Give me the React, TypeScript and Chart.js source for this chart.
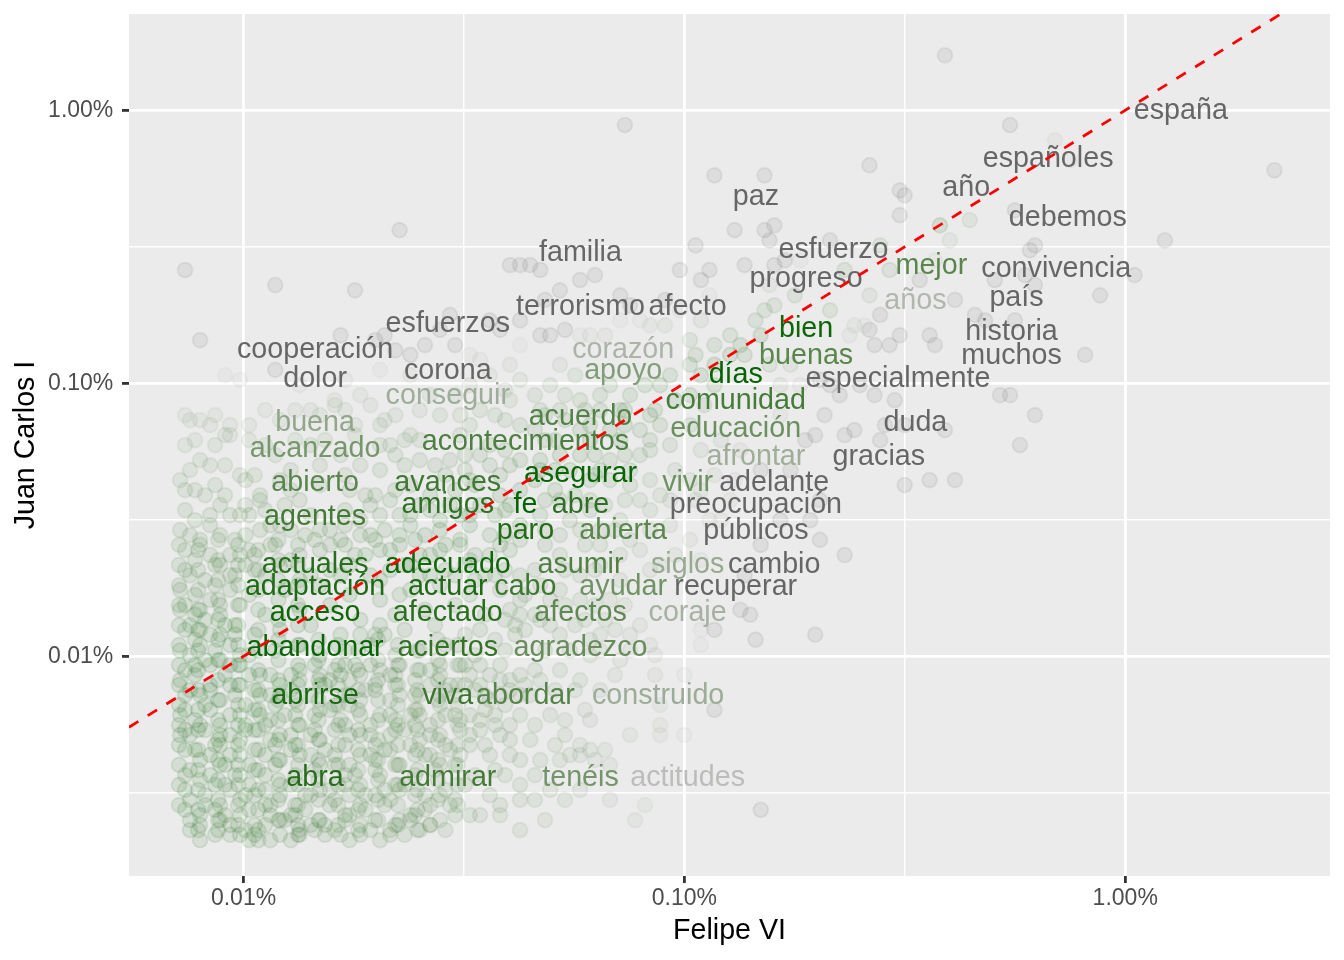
import React, { useEffect, useRef } from "react";
import { Chart, registerables } from "chart.js";

Chart.register(...registerables);

// ---------- DATA ----------
// corpus sizes (number of words) used to turn counts into proportions
const felipeTotalWords = 6882;
const juanCarlosTotalWords = 22994;

// labelled words with their counts in each corpus
const labelWords = [
  "españa", "españoles", "año", "debemos", "paz", "familia", "esfuerzo", "mejor", "convivencia", "progreso",
  "años", "país", "terrorismo", "afecto", "esfuerzos", "bien", "historia", "cooperación", "corazón", "buenas",
  "muchos", "dolor", "corona", "apoyo", "días", "especialmente", "conseguir", "comunidad", "acuerdo", "buena",
  "duda", "educación", "acontecimientos", "alcanzado", "afrontar", "gracias", "asegurar", "abierto", "avances", "vivir",
  "adelante", "amigos", "fe", "abre", "preocupación", "agentes", "paro", "abierta", "públicos", "actuales",
  "adecuado", "asumir", "siglos", "cambio", "adaptación", "actuar", "cabo", "ayudar", "recuperar", "acceso",
  "afectado", "afectos", "coraje", "abandonar", "aciertos", "agradezco", "abrirse", "viva", "abordar", "construido",
  "abra", "admirar", "tenéis", "actitudes",
];
const labelFelipeCounts = [
  92, 46, 30, 51, 10, 4, 15, 25, 48, 13,
  23, 39, 4, 7, 2, 13, 38, 1, 5, 13,
  38, 1, 2, 5, 9, 21, 2, 9, 4, 1,
  23, 9, 3, 1, 10, 19, 4, 1, 2, 7,
  11, 2, 3, 4, 10, 1, 3, 5, 10, 1,
  2, 4, 7, 11, 1, 2, 3, 5, 9, 1,
  2, 4, 7, 1, 2, 4, 1, 2, 3, 6,
  1, 2, 4, 7,
];
const labelJuanCarlosCounts = [
  277, 185, 145, 112, 134, 84, 86, 75, 73, 67,
  56, 57, 53, 53, 46, 44, 43, 37, 37, 35,
  35, 29, 31, 31, 30, 29, 25, 24, 21, 20,
  20, 19, 17, 16, 15, 15, 13, 12, 12, 12,
  12, 10, 10, 10, 10, 9, 8, 8, 8, 6,
  6, 6, 6, 6, 5, 5, 5, 5, 5, 4,
  4, 4, 4, 3, 3, 3, 2, 2, 2, 2,
  1, 1, 1, 1,
];

// jittered word points: [Felipe VI %, Juan Carlos I %]
const sparsePoints: [number, number][] = [
  [0.0226,0.364],[0.00737,0.260],[0.0118,0.229],[0.0179,0.219],[0.0402,0.271],[0.0424,0.271],[0.0447,0.271],[0.0471,0.260],
  [0.0733,0.883],[0.117,0.578],[0.152,0.578],[0.263,0.629],[0.308,0.509],[0.316,0.488],[0.308,0.413],[0.130,0.364],
  [0.152,0.364],[0.160,0.379],[0.156,0.334],[0.106,0.320],[0.214,0.334],[0.278,0.320],[0.0580,0.239],[0.0627,0.249],
  [0.0977,0.260],[0.109,0.239],[0.114,0.260],[0.137,0.271],[0.160,0.271],[0.169,0.282],[0.183,0.282],[0.231,0.260],
  [0.292,0.260],[0.342,0.239],[0.0715,0.210],[0.114,0.210],[0.156,0.229],[0.178,0.210],[0.263,0.210],
  [0.390,1.59],[0.548,0.883],[0.693,0.776],[0.750,0.656],[2.18,0.603],[0.562,0.430],[0.380,0.379],[0.444,0.396],
  [0.400,0.334],[0.624,0.320],[0.608,0.307],[1.23,0.334],[1.05,0.249],[0.506,0.239],[0.593,0.249],[0.624,0.229],
  [0.877,0.210],[0.370,0.282],[0.411,0.202],[0.456,0.178],[0.481,0.170],[0.562,0.170],[0.360,0.150],
  [0.370,0.138],[0.811,0.127],[0.520,0.0905],[0.548,0.0905],[0.624,0.0764],[0.390,0.0674],[0.577,0.0594],[0.360,0.0442],
  [0.411,0.0442],[0.00797,0.144],
];

const middlePoints: [number, number][] = [
  [0.243,0.0674],[0.231,0.0646],[0.243,0.163],[0.256,0.163],[0.278,0.178],[0.270,0.138],[0.292,0.138],[0.308,0.150],
  [0.214,0.185],[0.237,0.150],[0.263,0.157],[0.250,0.0984],[0.270,0.0905],[0.214,0.0984],[0.316,0.0424],[0.203,0.0267],[0.231,0.0235],
  [0.152,0.185],[0.160,0.193],[0.145,0.170],[0.149,0.150],[0.134,0.138],[0.127,0.150],[0.117,0.138],[0.109,0.170],[0.103,0.144],
  [0.106,0.127],[0.127,0.127],[0.137,0.127],[0.156,0.117],[0.174,0.117],[0.165,0.0984],[0.183,0.0984],[0.203,0.103],[0.225,0.0905],
  [0.208,0.0764],[0.198,0.0646],[0.165,0.0764],[0.134,0.0569],
  [0.0471,0.150],[0.0496,0.150],[0.0536,0.157],[0.0580,0.150],[0.0611,0.150],[0.0661,0.150],[0.0715,0.170],[0.0753,0.193],
  [0.0793,0.170],[0.0836,0.163],[0.0904,0.163],[0.0977,0.185],[0.0522,0.117],[0.0565,0.107],[0.0496,0.0984],[0.0458,0.0905],
  [0.0536,0.0905],[0.0580,0.0867],[0.0644,0.0905],[0.0678,0.0984],[0.0753,0.0905],[0.0814,0.0984],[0.0881,0.0984],[0.0928,0.107],
  [0.0952,0.0867],[0.0836,0.0764],[0.0881,0.0703],[0.0928,0.0594],[0.0836,0.0569],[0.0793,0.0546],[0.0733,0.0546],[0.0678,0.0523],
  [0.0627,0.0546],[0.0580,0.0546],[0.0522,0.0546],[0.0678,0.0442],[0.0753,0.0424],[0.0733,0.0373],[0.0661,0.0358],[0.0550,0.0315],
  [0.0522,0.0278],[0.0471,0.0329],[0.0483,0.0256],[0.0522,0.0235],[0.0753,0.0267],[0.0793,0.0245],[0.0928,0.0302],[0.103,0.0267],
  [0.106,0.0373],[0.117,0.0461],[0.130,0.0442],[0.165,0.0315],[0.103,0.0703],[0.109,0.0569],[0.121,0.0619],[0.149,0.0481],
  [0.174,0.0481],[0.188,0.0619],[0.127,0.0373],[0.149,0.0256],[0.121,0.0315],[0.109,0.0225],[0.137,0.0198],[0.203,0.0373],
  [0.193,0.0315],[0.300,0.0867],[0.285,0.0703],[0.316,0.0703],[0.278,0.0619],[0.0580,0.0198],[0.0644,0.0216],[0.0715,0.0190],
  [0.0836,0.0207],[0.0522,0.0175],[0.0471,0.0182],[0.0483,0.202],[0.0522,0.219],[0.0904,0.202],
  [0.134,0.0148],[0.141,0.0142],[0.109,0.0125],[0.117,0.0125],[0.145,0.0115],[0.198,0.0120],[0.109,0.0110],[0.0858,0.0101],
  [0.100,0.00854],[0.0858,0.00854],[0.117,0.00636],[0.0881,0.00663],[0.0595,0.00636],[0.0753,0.00515],[0.0881,0.00560],[0.0881,0.00515],
  [0.100,0.00515],[0.0661,0.00454],[0.0678,0.00400],[0.0611,0.00454],[0.0580,0.00435],[0.0536,0.00298],[0.0678,0.00298],[0.0814,0.00285],
  [0.0773,0.00251],[0.0483,0.00251],[0.149,0.00274],[0.0458,0.00298],[0.0496,0.0130],[0.0522,0.0120],[0.0565,0.0130],[0.0611,0.0115],
  [0.0644,0.0120],[0.0696,0.0125],[0.0753,0.0120],[0.0793,0.0130],[0.0836,0.0110],[0.0733,0.0154],[0.0678,0.0161],[0.0627,0.0154],
  [0.0580,0.0161],[0.0536,0.0154],[0.0496,0.0161],[0.0458,0.0142],[0.0522,0.00890],[0.0580,0.00818],[0.0696,0.00854],[0.0715,0.00969],
  [0.0458,0.00890],[0.0471,0.00818],[0.0447,0.00721],[0.0496,0.00609],[0.0458,0.00560],[0.0536,0.00515],[0.0580,0.00473],[0.0509,0.00473],
  [0.0550,0.00435],[0.0447,0.00494],[0.0458,0.00367],[0.0611,0.0101],
  [0.0458,0.0674],[0.0483,0.0619],[0.0471,0.0523],[0.0458,0.0442],[0.0509,0.0406],[0.0483,0.0373],[0.0611,0.0442],[0.0565,0.0389],
  [0.0611,0.0343],[0.0644,0.0290],[0.0595,0.0256],[0.0715,0.0315],[0.0836,0.0343],[0.0881,0.0389],[0.0836,0.0442],[0.0952,0.0481],
  [0.103,0.0442],[0.109,0.0406],[0.114,0.0315],[0.0952,0.0235],[0.0881,0.0216],[0.0715,0.0235],[0.0644,0.0256],[0.0611,0.0703],
  [0.0678,0.0674],[0.0733,0.0703],[0.0644,0.0797],[0.0536,0.0733],[0.0483,0.0764],[0.0580,0.0674],[0.0509,0.0481],[0.0550,0.0481],
  [0.0627,0.0461],[0.0793,0.0674],[0.0733,0.0797],[0.103,0.0905],[0.111,0.0832],[0.117,0.0984],[0.109,0.107],[0.117,0.117],
  [0.103,0.117],
  [0.0458,0.0207],[0.0536,0.0207],[0.0627,0.0207],[0.0471,0.0136],[0.0595,0.0136],[0.0661,0.0136],
  [0.0483,0.0105],[0.0550,0.0105],[0.0644,0.0105],[0.0753,0.0105],[0.0509,0.00752],[0.0565,0.00752],[0.0644,0.00752],
  [0.0536,0.00584],[0.0611,0.00584],[0.0471,0.00417],[0.0522,0.00417],[0.0627,0.00417],[0.0496,0.00324],[0.0580,0.00324],
  [0.0471,0.0797],[0.0522,0.0797],[0.0595,0.0797],[0.0715,0.0797],[0.0858,0.0797],[0.0509,0.0619],[0.0611,0.0619],[0.0715,0.0619],
  [0.0836,0.0619],[0.0471,0.0481],[0.0644,0.0481],[0.0753,0.0481],[0.0522,0.0373],[0.0611,0.0373],[0.0793,0.0373],[0.0928,0.0373],
  [0.0483,0.0290],[0.0580,0.0290],[0.0696,0.0290],[0.0836,0.0290],
];

const leftUpperPoints: [number, number][] = [
  [0.0166,0.150],[0.0199,0.144],[0.0209,0.150],[0.0239,0.127],[0.0302,0.138],[0.0326,0.127],[0.0344,0.122],[0.0402,0.117],
  [0.0424,0.138],[0.0279,0.157],[0.0382,0.157],[0.0221,0.132],[0.0258,0.138],[0.0294,0.178],[0.0424,0.170],[0.0362,0.170],
  [0.00908,0.107],[0.00982,0.103],[0.0118,0.112],[0.0134,0.0984],[0.0161,0.0867],[0.0184,0.0905],[0.0265,0.0905],[0.0170,0.103],
  [0.0204,0.112],[0.0239,0.107],[0.0326,0.0984],[0.0362,0.107],[0.0392,0.0944],[0.0424,0.103],[0.0302,0.0905],
  [0.00737,0.0764],[0.00797,0.0733],[0.00840,0.0703],[0.00932,0.0703],[0.00908,0.0646],[0.0112,0.0797],[0.0131,0.0797],[0.0142,0.0797],
  [0.0161,0.0832],[0.0170,0.0797],[0.0194,0.0832],[0.0204,0.0703],[0.0221,0.0764],[0.0239,0.0646],[0.0251,0.0797],[0.0310,0.0764],
  [0.0344,0.0797],[0.0372,0.0764],[0.0402,0.0867],[0.0424,0.0703],
  [0.00737,0.0594],[0.00797,0.0523],[0.00862,0.0594],[0.00840,0.0501],[0.00982,0.0461],[0.0131,0.0619],[0.0142,0.0594],[0.0118,0.0546],
  [0.0204,0.0594],[0.0221,0.0546],[0.0232,0.0619],[0.0251,0.0523],[0.0272,0.0501],[0.0294,0.0523],[0.0318,0.0546],[0.0344,0.0546],
  [0.0362,0.0501],[0.0392,0.0569],[0.0424,0.0523],[0.0103,0.0619],[0.0166,0.0546],[0.0184,0.0501],
  [0.00718,0.0442],[0.00737,0.0406],[0.00818,0.0389],[0.00908,0.0389],[0.0101,0.0442],[0.0101,0.0358],[0.0109,0.0373],[0.00840,0.0329],
  [0.00776,0.0315],[0.00932,0.0329],[0.0103,0.0329],[0.0115,0.0302],[0.0199,0.0389],[0.0204,0.0329],[0.0215,0.0373],[0.0226,0.0329],
  [0.0251,0.0358],[0.0279,0.0315],[0.0310,0.0329],[0.0344,0.0358],[0.0372,0.0329],[0.0402,0.0358],[0.0424,0.0302],[0.0121,0.0442],
  [0.0134,0.0373],[0.0174,0.0406],[0.0184,0.0315],[0.0157,0.0290],[0.0128,0.0290],[0.0326,0.0442],[0.0382,0.0461],
  [0.00756,0.0278],[0.00797,0.0267],[0.00885,0.0278],[0.00957,0.0267],[0.00776,0.0225],[0.00840,0.0235],[0.00885,0.0216],[0.00982,0.0235],
  [0.0106,0.0235],[0.00756,0.0198],[0.00818,0.0190],[0.00932,0.0198],[0.0101,0.0216],[0.0145,0.0267],[0.0157,0.0256],[0.0166,0.0267],
  [0.0179,0.0235],[0.0184,0.0278],[0.0199,0.0267],[0.0215,0.0245],[0.0226,0.0278],[0.0245,0.0267],[0.0265,0.0235],[0.0287,0.0256],
  [0.0310,0.0267],[0.0335,0.0235],[0.0362,0.0278],[0.0382,0.0256],[0.0424,0.0267],[0.0302,0.0198],[0.0335,0.0190],[0.0372,0.0198],
  [0.0424,0.0198],[0.0115,0.0256],[0.0128,0.0225],[0.0112,0.0198],[0.0134,0.0190],[0.0166,0.0198],[0.0204,0.0190],[0.0251,0.0198],
  [0.0326,0.0225],[0.0232,0.0216],
  [0.00756,0.0733],[0.00862,0.0764],[0.0103,0.0703],[0.0121,0.0733],[0.0149,0.0764],[0.0179,0.0703],[0.0209,0.0733],[0.0279,0.0764],[0.0326,0.0703],[0.0392,0.0733],
  [0.00776,0.0619],[0.00932,0.0646],[0.0112,0.0594],[0.0153,0.0619],[0.0179,0.0646],[0.0215,0.0594],[0.0251,0.0619],[0.0310,0.0646],[0.0362,0.0594],
  [0.00756,0.0481],[0.00908,0.0501],[0.0106,0.0461],[0.0128,0.0481],[0.0149,0.0501],[0.0170,0.0461],[0.0204,0.0481],[0.0232,0.0501],[0.0287,0.0461],[0.0318,0.0481],[0.0402,0.0501],
  [0.00776,0.0406],[0.00862,0.0424],[0.0109,0.0389],[0.0128,0.0406],[0.0149,0.0424],[0.0189,0.0389],[0.0221,0.0406],[0.0239,0.0424],[0.0265,0.0389],[0.0302,0.0406],[0.0335,0.0424],[0.0382,0.0389],[0.0424,0.0406],
  [0.00737,0.0343],[0.00885,0.0358],[0.00982,0.0329],[0.0112,0.0343],[0.0124,0.0358],[0.0142,0.0329],[0.0170,0.0343],[0.0194,0.0358],[0.0239,0.0329],[0.0265,0.0343],[0.0294,0.0358],[0.0326,0.0329],[0.0392,0.0343],
  [0.00718,0.0290],[0.00840,0.0302],[0.0101,0.0278],[0.0109,0.0290],[0.0121,0.0302],[0.0138,0.0278],[0.0149,0.0290],[0.0170,0.0302],[0.0194,0.0278],[0.0209,0.0290],[0.0239,0.0302],[0.0258,0.0278],[0.0279,0.0290],[0.0326,0.0302],[0.0392,0.0278],
  [0.00737,0.0245],[0.00797,0.0256],[0.00932,0.0235],[0.0103,0.0245],[0.0118,0.0256],[0.0134,0.0235],[0.0149,0.0245],[0.0170,0.0256],[0.0189,0.0235],[0.0204,0.0245],[0.0226,0.0256],[0.0251,0.0235],[0.0279,0.0245],[0.0310,0.0256],[0.0362,0.0235],[0.0402,0.0245],
  [0.00737,0.0207],[0.00862,0.0216],[0.00957,0.0198],[0.0106,0.0207],[0.0121,0.0216],[0.0142,0.0198],[0.0157,0.0207],[0.0174,0.0216],[0.0194,0.0198],[0.0215,0.0207],[0.0239,0.0216],[0.0265,0.0198],[0.0287,0.0207],[0.0318,0.0216],[0.0353,0.0198],[0.0392,0.0207],
];

const leftLowerPoints: [number, number][] = [
  [0.00737,0.0154],[0.00776,0.0168],[0.00840,0.0161],[0.00885,0.0154],[0.00932,0.0175],[0.0204,0.0161],[0.0226,0.0168],[0.0424,0.0161],[0.0435,0.0168],
  [0.00718,0.0148],[0.00776,0.0142],[0.00818,0.0136],[0.00885,0.0142],[0.00957,0.0130],[0.00756,0.0130],[0.0184,0.0136],[0.0204,0.0130],[0.0392,0.0136],[0.0413,0.0130],[0.0424,0.0142],
  [0.00797,0.0125],[0.00840,0.0120],[0.00885,0.0120],[0.00776,0.0115],[0.00957,0.0120],[0.00862,0.0105],[0.00932,0.0110],[0.0184,0.0120],[0.0199,0.0120],[0.0209,0.0120],[0.0413,0.0120],[0.0435,0.0125],[0.0372,0.0115],
  [0.00756,0.0101],[0.00818,0.00969],[0.00885,0.00969],[0.00776,0.00929],[0.00932,0.00929],[0.00982,0.0101],[0.00982,0.00929],[0.0145,0.00929],[0.0161,0.00890],[0.0179,0.00929],
  [0.0194,0.00929],[0.0204,0.00890],[0.0226,0.00929],[0.0251,0.00890],[0.0279,0.00929],[0.0310,0.00929],[0.0344,0.00929],[0.0382,0.00929],[0.0424,0.00854],
  [0.00718,0.00818],[0.00776,0.00854],[0.00840,0.00785],[0.00908,0.00854],[0.00982,0.00785],[0.0103,0.00854],[0.0115,0.00854],[0.0121,0.00785],[0.0128,0.00854],[0.0134,0.00818],
  [0.0149,0.00854],[0.0157,0.00818],[0.0166,0.00854],[0.0174,0.00818],[0.0184,0.00854],[0.0199,0.00785],[0.0221,0.00854],[0.0245,0.00818],[0.0279,0.00854],[0.0294,0.00785],
  [0.0326,0.00854],[0.0344,0.00785],[0.0382,0.00818],[0.0402,0.00818],[0.0435,0.00785],
  [0.00737,0.00721],[0.00797,0.00721],[0.00840,0.00752],[0.00885,0.00691],[0.00957,0.00721],[0.0101,0.00663],[0.0106,0.00752],[0.0115,0.00721],[0.0121,0.00721],[0.0131,0.00691],
  [0.0142,0.00721],[0.0149,0.00785],[0.0161,0.00663],[0.0174,0.00721],[0.0184,0.00691],[0.0199,0.00752],[0.0215,0.00691],[0.0226,0.00721],[0.0245,0.00721],[0.0265,0.00785],
  [0.0279,0.00721],[0.0302,0.00721],[0.0335,0.00752],[0.0362,0.00691],[0.0382,0.00721],[0.0424,0.00721],
  [0.00718,0.00609],[0.00776,0.00584],[0.00840,0.00636],[0.00885,0.00560],[0.00932,0.00609],[0.0101,0.00560],[0.0109,0.00609],[0.0115,0.00584],[0.0124,0.00609],[0.0134,0.00560],
  [0.0145,0.00609],[0.0157,0.00636],[0.0166,0.00584],[0.0184,0.00609],[0.0194,0.00560],[0.0204,0.00609],[0.0221,0.00584],[0.0239,0.00609],[0.0251,0.00609],[0.0265,0.00560],
  [0.0287,0.00609],[0.0310,0.00584],[0.0326,0.00609],[0.0344,0.00584],[0.0372,0.00609],[0.0402,0.00560],[0.0424,0.00609],
  [0.00718,0.00515],[0.00756,0.00515],[0.00818,0.00537],[0.00862,0.00473],[0.00932,0.00515],[0.00982,0.00494],[0.0106,0.00537],[0.0115,0.00494],[0.0121,0.00515],[0.0131,0.00473],
  [0.0142,0.00515],[0.0149,0.00494],[0.0161,0.00537],[0.0174,0.00515],[0.0184,0.00515],[0.0199,0.00473],[0.0215,0.00515],[0.0232,0.00537],[0.0251,0.00494],[0.0265,0.00515],
  [0.0287,0.00473],[0.0310,0.00537],[0.0326,0.00515],[0.0353,0.00473],[0.0382,0.00515],[0.0402,0.00494],
  [0.00737,0.00454],[0.00797,0.00417],[0.00840,0.00435],[0.00908,0.00400],[0.00982,0.00435],[0.0103,0.00400],[0.0112,0.00435],[0.0121,0.00417],[0.0128,0.00454],[0.0142,0.00435],
  [0.0149,0.00400],[0.0161,0.00435],[0.0174,0.00400],[0.0184,0.00435],[0.0199,0.00417],[0.0215,0.00454],[0.0226,0.00400],[0.0245,0.00435],[0.0265,0.00435],[0.0279,0.00400],
  [0.0310,0.00435],[0.0402,0.00435],[0.0424,0.00417],
  [0.00737,0.00367],[0.00797,0.00352],[0.00840,0.00367],[0.00908,0.00338],[0.00982,0.00367],[0.0103,0.00338],[0.0112,0.00367],[0.0121,0.00338],[0.0170,0.00367],[0.0184,0.00338],
  [0.0204,0.00367],[0.0221,0.00338],[0.0392,0.00367],[0.0424,0.00338],
  [0.00756,0.00298],[0.00818,0.00310],[0.00885,0.00285],[0.00932,0.00324],[0.00982,0.00298],[0.0106,0.00310],[0.0115,0.00285],[0.0121,0.00310],[0.0131,0.00285],[0.0142,0.00310],
  [0.0149,0.00324],[0.0161,0.00298],[0.0174,0.00310],[0.0184,0.00285],[0.0199,0.00310],[0.0215,0.00298],[0.0226,0.00324],[0.0245,0.00310],[0.0265,0.00285],[0.0279,0.00310],
  [0.0302,0.00298],[0.0382,0.00285],[0.0424,0.00298],
  [0.00756,0.00251],[0.00797,0.00262],[0.00862,0.00274],[0.00932,0.00241],[0.00982,0.00262],[0.0106,0.00241],[0.0115,0.00262],[0.0121,0.00251],[0.0131,0.00262],[0.0142,0.00241],
  [0.0149,0.00251],[0.0161,0.00231],[0.0174,0.00262],[0.0184,0.00241],[0.0199,0.00251],[0.0215,0.00231],[0.0226,0.00251],[0.0245,0.00262],[0.0265,0.00241],[0.0279,0.00251],
  [0.0302,0.00262],[0.0326,0.00262],[0.0382,0.00262],[0.0424,0.00231],
  [0.00756,0.00231],[0.00932,0.00222],[0.00982,0.00222],[0.0106,0.00222],[0.0115,0.00212],[0.0121,0.00222],[0.0134,0.00222],[0.0145,0.00231],[0.0166,0.00222],[0.0184,0.00222],
  [0.0215,0.00222],[0.0251,0.00231],[0.0265,0.00241],
];

const leftLowerExtraPoints: [number, number][] = [
  [0.00718,0.0175],[0.00862,0.0182],[0.0103,0.0168],[0.0124,0.0175],[0.0149,0.0182],[0.0174,0.0168],[0.0239,0.0175],[0.0279,0.0182],[0.0326,0.0168],[0.0382,0.0175],
  [0.00797,0.0148],[0.00982,0.0154],[0.0112,0.0142],[0.0134,0.0148],[0.0157,0.0154],[0.0221,0.0142],[0.0258,0.0148],[0.0302,0.0154],[0.0353,0.0142],[0.0402,0.0148],
  [0.00737,0.0125],[0.00908,0.0130],[0.0106,0.0120],[0.0121,0.0125],[0.0142,0.0130],[0.0166,0.0120],[0.0232,0.0125],[0.0272,0.0130],[0.0318,0.0120],[0.0344,0.0125],
  [0.00718,0.0105],[0.00797,0.0110],[0.0103,0.0101],[0.0118,0.0105],[0.0134,0.0110],[0.0149,0.0101],[0.0170,0.0105],[0.0194,0.0110],[0.0221,0.0101],[0.0251,0.0105],[0.0287,0.0110],[0.0335,0.0101],[0.0392,0.0105],
  [0.00737,0.00890],[0.00840,0.00929],[0.0109,0.00854],[0.0134,0.00890],[0.0170,0.00929],[0.0215,0.00854],[0.0265,0.00890],[0.0318,0.00929],[0.0362,0.00854],
  [0.00756,0.00752],[0.00932,0.00785],[0.0109,0.00721],[0.0128,0.00752],[0.0153,0.00785],[0.0170,0.00721],[0.0189,0.00752],[0.0221,0.00785],[0.0251,0.00721],[0.0287,0.00752],[0.0318,0.00785],[0.0353,0.00721],[0.0402,0.00752],
  [0.00737,0.00636],[0.00818,0.00663],[0.00982,0.00609],[0.0106,0.00636],[0.0118,0.00663],[0.0131,0.00609],[0.0149,0.00636],[0.0174,0.00663],[0.0215,0.00609],[0.0245,0.00636],[0.0279,0.00663],[0.0302,0.00609],[0.0353,0.00636],[0.0392,0.00663],
  [0.00737,0.00537],[0.00797,0.00560],[0.00885,0.00515],[0.0101,0.00537],[0.0112,0.00560],[0.0128,0.00515],[0.0145,0.00537],[0.0170,0.00560],[0.0194,0.00515],[0.0221,0.00537],[0.0245,0.00560],[0.0279,0.00515],[0.0344,0.00537],[0.0372,0.00560],
  [0.00776,0.00454],[0.00885,0.00473],[0.00932,0.00435],[0.0106,0.00454],[0.0118,0.00473],[0.0134,0.00435],[0.0153,0.00454],[0.0170,0.00473],[0.0194,0.00435],[0.0209,0.00454],[0.0239,0.00473],[0.0258,0.00435],[0.0294,0.00454],[0.0326,0.00473],[0.0362,0.00435],
  [0.00756,0.00383],[0.00885,0.00400],[0.00957,0.00367],[0.0106,0.00383],[0.0118,0.00400],[0.0131,0.00367],[0.0145,0.00383],[0.0161,0.00400],[0.0179,0.00367],[0.0199,0.00383],[0.0221,0.00400],[0.0245,0.00367],[0.0272,0.00383],[0.0302,0.00400],[0.0335,0.00367],[0.0372,0.00383],
  [0.00737,0.00324],[0.00862,0.00338],[0.0101,0.00310],[0.0112,0.00324],[0.0128,0.00338],[0.0138,0.00310],[0.0157,0.00324],[0.0170,0.00338],[0.0189,0.00310],[0.0209,0.00324],[0.0232,0.00338],[0.0258,0.00310],[0.0287,0.00324],[0.0318,0.00338],[0.0362,0.00310],
  [0.00737,0.00274],[0.00818,0.00285],[0.00908,0.00262],[0.0103,0.00274],[0.0112,0.00285],[0.0128,0.00262],[0.0138,0.00274],[0.0157,0.00285],[0.0170,0.00262],[0.0189,0.00274],[0.0209,0.00285],[0.0239,0.00262],[0.0258,0.00274],[0.0294,0.00285],[0.0344,0.00262],
  [0.00797,0.00241],[0.00885,0.00251],[0.0101,0.00231],[0.0112,0.00241],[0.0124,0.00251],[0.0134,0.00231],[0.0153,0.00241],[0.0170,0.00251],[0.0194,0.00231],[0.0221,0.00241],[0.0239,0.00251],[0.0287,0.00231],
  [0.00797,0.00212],[0.00862,0.00222],[0.0103,0.00212],[0.0128,0.00212],[0.0153,0.00222],[0.0174,0.00212],[0.0204,0.00212],[0.0232,0.00222],
];

const leftCorePoints: [number, number][] = [
  [0.00714,0.0256],[0.00789,0.0245],[0.00876,0.0267],[0.00972,0.0256],[0.0108,0.0245],[0.0120,0.0267],[0.0133,0.0256],
  [0.00714,0.0216],[0.00789,0.0207],[0.00876,0.0225],[0.00972,0.0216],[0.0108,0.0207],[0.0120,0.0225],[0.0133,0.0216],
  [0.00714,0.0182],[0.00789,0.0175],[0.00876,0.0190],[0.00972,0.0182],[0.0108,0.0175],[0.0120,0.0190],[0.0133,0.0182],
  [0.00714,0.0154],[0.00789,0.0148],[0.00876,0.0161],[0.00972,0.0154],[0.0108,0.0148],[0.0120,0.0161],[0.0133,0.0154],
  [0.00714,0.0130],[0.00789,0.0125],[0.00876,0.0136],[0.00972,0.0130],[0.0108,0.0125],[0.0120,0.0136],[0.0133,0.0130],
  [0.00714,0.0110],[0.00789,0.0105],[0.00876,0.0115],[0.00972,0.0110],[0.0108,0.0105],[0.0120,0.0115],[0.0133,0.0110],
  [0.00714,0.00929],[0.00789,0.00890],[0.00876,0.00969],[0.00972,0.00929],[0.0108,0.00890],[0.0120,0.00969],[0.0133,0.00929],
  [0.00714,0.00785],[0.00789,0.00752],[0.00876,0.00818],[0.00972,0.00785],[0.0108,0.00752],[0.0120,0.00818],[0.0133,0.00785],
  [0.00714,0.00663],[0.00789,0.00636],[0.00876,0.00691],[0.00972,0.00663],[0.0108,0.00636],[0.0120,0.00691],[0.0133,0.00663],
  [0.00714,0.00560],[0.00789,0.00537],[0.00876,0.00584],[0.00972,0.00560],[0.0108,0.00537],[0.0120,0.00584],[0.0133,0.00560],
  [0.00714,0.00473],[0.00789,0.00454],[0.00876,0.00494],[0.00972,0.00473],[0.0108,0.00454],[0.0120,0.00494],[0.0133,0.00473],
  [0.00714,0.00400],[0.00789,0.00383],[0.00876,0.00417],[0.00972,0.00400],[0.0108,0.00383],[0.0120,0.00417],[0.0133,0.00400],
  [0.00714,0.00338],[0.00789,0.00324],[0.00876,0.00352],[0.00972,0.00338],[0.0108,0.00324],[0.0120,0.00352],[0.0133,0.00338],
  [0.00714,0.00285],[0.00789,0.00274],[0.00876,0.00298],[0.00972,0.00285],[0.0108,0.00274],[0.0120,0.00298],[0.0133,0.00285],
  [0.00789,0.00231],[0.00876,0.00251],[0.00972,0.00241],[0.0108,0.00231],[0.0120,0.00251],[0.0133,0.00241],
  [0.00876,0.00231],[0.0108,0.00212],[0.0133,0.00222],
  [0.0148,0.0115],[0.0164,0.0110],[0.0182,0.0105],[0.0202,0.0115],[0.0224,0.0110],[0.0248,0.0105],[0.0276,0.0115],[0.0306,0.0110],
  [0.0148,0.00969],[0.0164,0.00929],[0.0182,0.00890],[0.0202,0.00969],[0.0224,0.00929],[0.0248,0.00890],[0.0276,0.00969],[0.0306,0.00929],
  [0.0148,0.00818],[0.0164,0.00785],[0.0182,0.00752],[0.0202,0.00818],[0.0224,0.00785],[0.0248,0.00752],[0.0276,0.00818],[0.0306,0.00785],
  [0.0148,0.00691],[0.0164,0.00663],[0.0182,0.00636],[0.0202,0.00691],[0.0224,0.00663],[0.0248,0.00636],[0.0276,0.00691],[0.0306,0.00663],
  [0.0148,0.00584],[0.0164,0.00560],[0.0182,0.00537],[0.0202,0.00584],[0.0224,0.00560],[0.0248,0.00537],[0.0276,0.00584],[0.0306,0.00560],
  [0.0148,0.00494],[0.0164,0.00473],[0.0182,0.00454],[0.0202,0.00494],[0.0224,0.00473],[0.0248,0.00454],[0.0276,0.00494],[0.0306,0.00473],
  [0.0148,0.00417],[0.0164,0.00400],[0.0182,0.00383],[0.0202,0.00417],[0.0224,0.00400],[0.0248,0.00383],[0.0276,0.00417],[0.0306,0.00400],
  [0.0148,0.00352],[0.0164,0.00338],[0.0182,0.00324],[0.0202,0.00352],[0.0224,0.00338],[0.0248,0.00324],[0.0276,0.00352],[0.0306,0.00338],
  [0.0148,0.00298],[0.0164,0.00285],[0.0182,0.00274],[0.0202,0.00298],[0.0224,0.00285],[0.0248,0.00274],[0.0276,0.00298],[0.0306,0.00285],
  [0.0148,0.00251],[0.0164,0.00241],[0.0182,0.00231],[0.0202,0.00251],[0.0224,0.00241],[0.0248,0.00231],
];

const xMajorTicks = [0.01, 0.1, 1];
const yMajorTicks = [0.01, 0.1, 1];
const xMinorTicks = [0.0316228, 0.316228];
const yMinorTicks = [0.00316228, 0.0316228, 0.316228];

const X_MIN = 0.005498;
const X_MAX = 2.914;
const Y_MIN = 0.0015676;
const Y_MAX = 2.253;

const allPoints = [
  ...sparsePoints, ...middlePoints, ...leftUpperPoints, ...leftLowerPoints, ...leftLowerExtraPoints, ...leftCorePoints,
];

// ---------- STYLE ----------
const FONT = '"Liberation Sans", Arial, Helvetica, sans-serif';
const LABEL_SIZE = 28.7;
const LOW: [number, number, number] = [0, 100, 0]; // darkgreen
const HIGH: [number, number, number] = [191, 191, 191]; // gray75
const NA_COL: [number, number, number] = [102, 102, 102];

function toLin(c: number) {
  c /= 255;
  return c <= 0.04045 ? c / 12.92 : Math.pow((c + 0.055) / 1.055, 2.4);
}
function fromLin(c: number) {
  const v = c <= 0.0031308 ? 12.92 * c : 1.055 * Math.pow(c, 1 / 2.4) - 0.055;
  return Math.round(Math.max(0, Math.min(1, v)) * 255);
}
function rgbToLab(rgb: [number, number, number]) {
  const R = toLin(rgb[0]), G = toLin(rgb[1]), B = toLin(rgb[2]);
  const X = (0.4124 * R + 0.3576 * G + 0.1805 * B) / 0.95047;
  const Y = 0.2126 * R + 0.7152 * G + 0.0722 * B;
  const Z = (0.0193 * R + 0.1192 * G + 0.9505 * B) / 1.08883;
  const f = (t: number) => (t > 0.008856 ? Math.cbrt(t) : 7.787 * t + 16 / 116);
  return [116 * f(Y) - 16, 500 * (f(X) - f(Y)), 200 * (f(Y) - f(Z))];
}
function labToRgb(lab: number[]): [number, number, number] {
  const fy = (lab[0] + 16) / 116;
  const fx = fy + lab[1] / 500;
  const fz = fy - lab[2] / 200;
  const inv = (t: number) => (t * t * t > 0.008856 ? t * t * t : (t - 16 / 116) / 7.787);
  const X = inv(fx) * 0.95047, Y = inv(fy), Z = inv(fz) * 1.08883;
  const R = 3.2406 * X - 1.5372 * Y - 0.4986 * Z;
  const G = -0.9689 * X + 1.8758 * Y + 0.0415 * Z;
  const B = 0.0557 * X - 0.204 * Y + 1.057 * Z;
  return [fromLin(R), fromLin(G), fromLin(B)];
}
const LOW_LAB = rgbToLab(LOW);
const HIGH_LAB = rgbToLab(HIGH);

// colour = abs(difference of proportions) on a 0 .. 0.001 gradient, grey beyond
function colourFor(xPct: number, yPct: number, alpha: number) {
  const d = Math.abs(xPct - yPct) / 100;
  let rgb: [number, number, number];
  if (d > 0.001) rgb = NA_COL;
  else {
    const t = d / 0.001;
    rgb = labToRgb([0, 1, 2].map((i) => LOW_LAB[i] + (HIGH_LAB[i] - LOW_LAB[i]) * t));
  }
  return `rgba(${rgb[0]},${rgb[1]},${rgb[2]},${alpha})`;
}

function isIn(v: number, arr: number[]) {
  return arr.some((t) => Math.abs(Math.log10(v / t)) < 1e-4);
}

const plotPlugin = {
  id: "ggPanel",
  beforeDraw(chart: any) {
    const { ctx, chartArea: a } = chart;
    ctx.save();
    ctx.fillStyle = "#FFFFFF";
    ctx.fillRect(0, 0, chart.width, chart.height);
    ctx.fillStyle = "#EBEBEB";
    ctx.fillRect(a.left, a.top, a.right - a.left, a.bottom - a.top);
    ctx.restore();
  },
  afterDatasetDraw(chart: any, args: any) {
    if (args.index !== 0) return;
    const { ctx, chartArea: a, scales } = chart;
    ctx.save();
    ctx.beginPath();
    ctx.rect(a.left, a.top, a.right - a.left, a.bottom - a.top);
    ctx.clip();
    ctx.font = `${LABEL_SIZE}px ${FONT}`;
    ctx.textAlign = "center";
    ctx.textBaseline = "alphabetic";
    labelWords.forEach((w, i) => {
      const fx = (labelFelipeCounts[i] / felipeTotalWords) * 100;
      const fy = (labelJuanCarlosCounts[i] / juanCarlosTotalWords) * 100;
      const px = scales.x.getPixelForValue(fx);
      const py = scales.y.getPixelForValue(fy) + 1.5 * 0.716 * LABEL_SIZE;
      ctx.fillStyle = colourFor(fx, fy, 1);
      ctx.fillText(w, px, py);
    });
    ctx.restore();
  },
};

export default function App() {
  const ref = useRef<HTMLCanvasElement | null>(null);
  useEffect(() => {
    if (!ref.current) return;
    const tickFont = { family: FONT, size: 23 };
    const titleFont = { family: FONT, size: 28.6 };
    const chart = new Chart(ref.current, {
      type: "scatter",
      data: {
        datasets: [
          {
            data: allPoints.map(([x, y]) => ({ x, y })),
            pointRadius: 7.4,
            pointBorderWidth: 1.9,
            pointBackgroundColor: (c: any) => colourFor(c.raw.x, c.raw.y, 0.1),
            pointBorderColor: (c: any) => colourFor(c.raw.x, c.raw.y, 0.1),
            showLine: false,
            order: 2,
          } as any,
          {
            type: "line",
            data: [
              { x: X_MIN, y: X_MIN },
              { x: Y_MAX, y: Y_MAX },
            ],
            borderColor: "#FF0000",
            borderWidth: 2.8,
            borderDash: [11, 11],
            pointRadius: 0,
            fill: false,
            showLine: true,
            tension: 0,
            order: 1,
          } as any,
        ],
      },
      options: {
        animation: false,
        responsive: false,
        devicePixelRatio: 1,
        events: [],
        layout: { padding: { top: 14, right: 14, bottom: 0, left: 0 }, autoPadding: false } as any,
        plugins: { legend: { display: false }, tooltip: { enabled: false } },
        scales: {
          x: {
            type: "logarithmic",
            position: "bottom",
            min: X_MIN,
            max: X_MAX,
            afterBuildTicks: (s: any) => {
              s.ticks = [...xMajorTicks, ...xMinorTicks].sort((a, b) => a - b).map((v) => ({ value: v }));
            },
            afterFit: (s: any) => {
              s.height = 84;
              s.paddingLeft = 0;
              s.paddingRight = 0;
              s.paddingTop = 0;
              s.paddingBottom = 0;
            },
            ticks: {
              autoSkip: false,
              maxRotation: 0,
              minRotation: 0,
              padding: 1.5,
              color: "#4D4D4D",
              font: tickFont,
              callback: (v: any) => (isIn(Number(v), xMajorTicks) ? Number(v).toFixed(2) + "%" : ""),
            },
            grid: {
              color: "#FFFFFF",
              lineWidth: (c: any) => (c.tick && isIn(c.tick.value, xMajorTicks) ? 2.8 : 1.4),
              tickColor: (c: any) => (c.tick && isIn(c.tick.value, xMajorTicks) ? "#333333" : "rgba(0,0,0,0)"),
              tickWidth: 2.8,
              tickLength: 7,
              drawTicks: true,
            },
            border: { display: false },
            title: {
              display: true,
              text: "Felipe VI",
              color: "#000000",
              font: titleFont,
              padding: { top: 0, bottom: 11.7 },
            },
          },
          y: {
            type: "logarithmic",
            position: "left",
            min: Y_MIN,
            max: Y_MAX,
            afterBuildTicks: (s: any) => {
              s.ticks = [...yMajorTicks, ...yMinorTicks].sort((a, b) => a - b).map((v) => ({ value: v }));
            },
            afterFit: (s: any) => {
              s.width = 129;
              s.paddingLeft = 0;
              s.paddingRight = 0;
              s.paddingTop = 0;
              s.paddingBottom = 0;
            },
            ticks: {
              autoSkip: false,
              padding: 8.7,
              color: "#4D4D4D",
              font: tickFont,
              callback: (v: any) => (isIn(Number(v), yMajorTicks) ? Number(v).toFixed(2) + "%" : ""),
            },
            grid: {
              color: "#FFFFFF",
              lineWidth: (c: any) => (c.tick && isIn(c.tick.value, yMajorTicks) ? 2.8 : 1.4),
              tickColor: (c: any) => (c.tick && isIn(c.tick.value, yMajorTicks) ? "#333333" : "rgba(0,0,0,0)"),
              tickWidth: 2.8,
              tickLength: 7,
              drawTicks: true,
            },
            border: { display: false },
            title: {
              display: true,
              text: "Juan Carlos I",
              color: "#000000",
              font: titleFont,
              padding: { top: 8.9, bottom: 0 },
            },
          },
        },
      } as any,
      plugins: [plotPlugin as any],
    });
    return () => chart.destroy();
  }, []);

  return (
    <div style={{ position: "absolute", left: 0, top: 0, width: 1344, height: 960, background: "#FFFFFF" }}>
      <canvas ref={ref} width={1344} height={960} style={{ display: "block", width: 1344, height: 960 }} />
    </div>
  );
}
